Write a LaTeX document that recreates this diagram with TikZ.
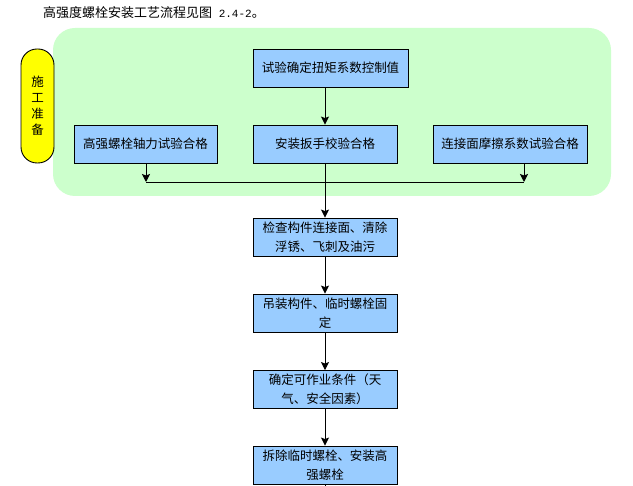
\documentclass[tikz,border=0pt]{standalone}
\usepackage{fontspec}
\setmainfont{Noto Sans CJK SC}
\newfontfamily\monof{Liberation Mono}
\usetikzlibrary{arrows.meta}
\definecolor{bgreen}{HTML}{CCFFCC}
\definecolor{bblue}{HTML}{99CCFF}
\definecolor{byellow}{HTML}{FFFF00}
\tikzset{
  flowbox/.style={draw=black, line width=0.9pt, fill=bblue, minimum height=38pt,
    inner sep=1pt, align=center, font=\fontsize{12.5}{19}\selectfont},
  conn/.style={line width=0.9pt, draw=black},
  arr/.style={conn, -{Stealth[length=8pt,width=8pt,inset=1.5pt]}}
}
\begin{document}
\begin{tikzpicture}[x=1pt,y=-1pt]
\useasboundingbox (0,0) rectangle (633,486);
\fill[white] (0,0) rectangle (633,486);
% green background
\fill[bgreen, rounded corners=22pt] (53,28) rectangle (611,196);
% title
\node[anchor=west, inner sep=0pt, font=\fontsize{13}{16}\selectfont] (title) at (43,13)
  {高强度螺栓安装工艺流程见图{\monof\fontsize{11}{16}\selectfont\ 2.4-2}。};
% yellow label
\node[draw=black, line width=0.9pt, fill=byellow, rounded corners=16pt,
  minimum width=33pt, minimum height=114pt, inner sep=0pt, align=center,
  font=\fontsize{12.5}{16}\selectfont] (prep) at (37.5,106) {施\\工\\准\\备};
% boxes
\node[flowbox, minimum width=155pt] (t) at (330.5,68) {试验确定扭矩系数控制值};
\node[flowbox, minimum width=143pt] (b1) at (145.5,144) {高强螺栓轴力试验合格};
\node[flowbox, minimum width=144pt] (b2) at (325,144) {安装扳手校验合格};
\node[flowbox, minimum width=154pt] (b3) at (510,144) {连接面摩擦系数试验合格};
\node[flowbox, minimum width=144pt, text width=136pt] (c1) at (325,237) {检查构件连接面、清除\\浮锈、飞刺及油污};
\node[flowbox, minimum width=144pt, text width=136pt] (c2) at (325,313) {吊装构件、临时螺栓固\\定};
\node[flowbox, minimum width=144pt, text width=136pt] (c3) at (325,389.5) {确定可作业条件（天\\气、安全因素）};
\node[flowbox, minimum width=144pt, text width=136pt] (c4) at (325,465) {拆除临时螺栓、安装高\\强螺栓};
% junction coordinates
\coordinate (j1) at (146,182);
\coordinate (j3) at (524,182);
\coordinate (bot) at (325,486);
% connectors
\draw[arr] (b2.north |- t.south) -- (b2.north);
\draw[arr] (b1.south -| j1) -- (j1);
\draw[arr] (b3.south -| j3) -- (j3);
\draw[conn] (j1) -- (j3);
\draw[arr] (b2.south) -- (c1.north);
\draw[arr] (c1.south) -- (c2.north);
\draw[arr] (c2.south) -- (c3.north);
\draw[arr] (c3.south) -- (c4.north);
\draw[conn] (c4.south) -- (bot);
\end{tikzpicture}
\end{document}
